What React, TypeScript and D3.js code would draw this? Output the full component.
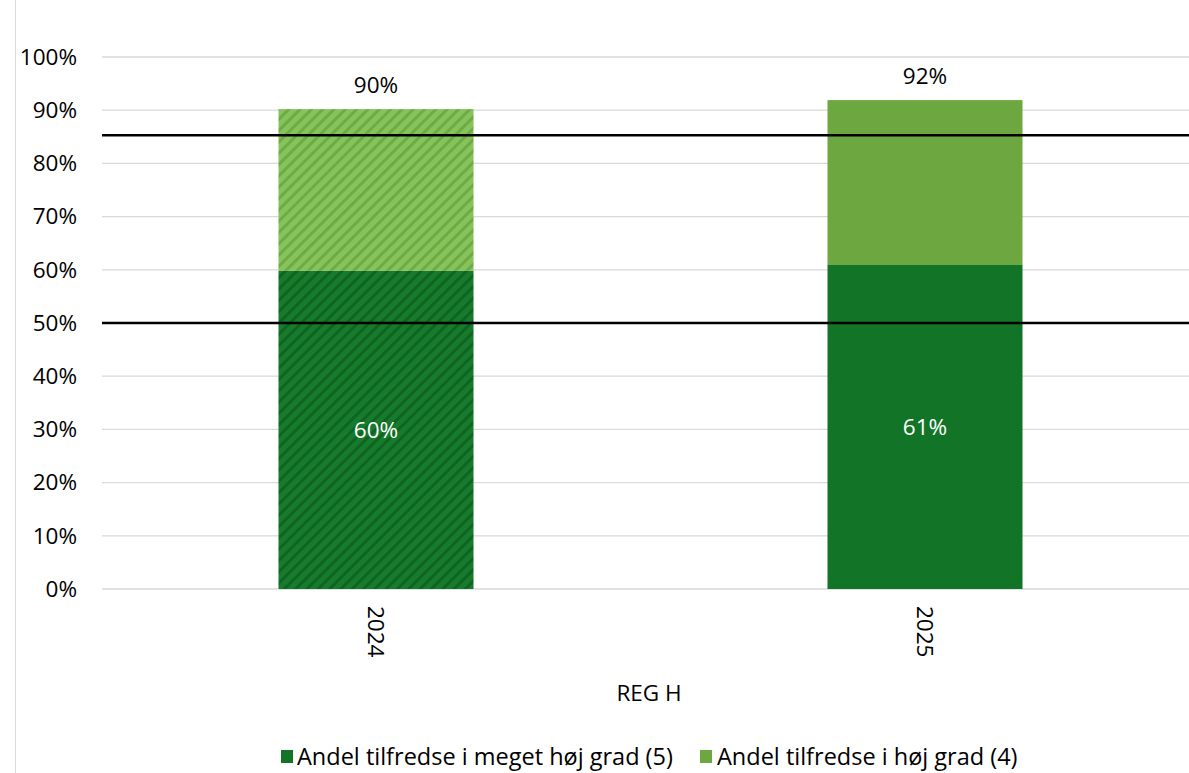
import React from "react";
import * as d3 from "d3";

const categories = ["2024", "2025"];
const veryHigh = [59.8, 60.9];
const high = [30.4, 31.0];
const totals = [90, 92];
const innerLabels = [60, 61];
const hatched = [true, false];
const refLines = [50, 85.3];
const yTicks = [0, 10, 20, 30, 40, 50, 60, 70, 80, 90, 100];
const seriesNames = ["Andel tilfredse i meget høj grad (5)", "Andel tilfredse i høj grad (4)"];
const axisTitle = "REG H";

const W = 1189;
const H = 773;
const FONT = "Open Sans, sans-serif";
const FS = 22.5;

export default function App() {
  const x = d3.scaleBand<string>().domain(categories).range([101.5, 1199.5]).paddingInner(0.645).paddingOuter(0.3225);
  const y = d3.scaleLinear().domain([0, 100]).range([589, 57]);
  const bw = 195;

  return (
    <svg width={W} height={H} style={{ position: "absolute", left: 0, top: 0, background: "#fff" }}>
      <defs>
        <pattern id="hatchDark" patternUnits="userSpaceOnUse" width="8" height="8" patternTransform="rotate(45)">
          <rect width="8" height="8" fill="#167C2C" />
          <rect width="3" height="8" fill="#0F6423" />
        </pattern>
        <pattern id="hatchLight" patternUnits="userSpaceOnUse" width="8" height="8" patternTransform="rotate(45)">
          <rect width="8" height="8" fill="#86C35B" />
          <rect width="3" height="8" fill="#6FAB45" />
        </pattern>
      </defs>
      <line x1={15.5} x2={15.5} y1={0} y2={H} stroke="#d9d9d9" strokeWidth={1} />
      {yTicks.map((t) => (
        <g key={t}>
          <line x1={102} x2={W} y1={y(t)} y2={y(t)} stroke="#d9d9d9" strokeWidth={1.3} />
          <text x={77} y={y(t)} dy="0.35em" textAnchor="end" fontFamily={FONT} fontSize={FS} fill="#000">
            {t}%
          </text>
        </g>
      ))}
      {categories.map((c, i) => {
        const cx = x(c)! + x.bandwidth() / 2;
        const x0 = cx - bw / 2;
        const yTop = y(veryHigh[i] + high[i]);
        return (
          <g key={c}>
            <rect x={x0} y={y(veryHigh[i])} width={bw} height={y(0) - y(veryHigh[i])} fill={hatched[i] ? "url(#hatchDark)" : "#127427"} />
            <rect x={x0} y={yTop} width={bw} height={y(veryHigh[i]) - yTop} fill={hatched[i] ? "url(#hatchLight)" : "#6DA740"} />
            <text x={cx} y={(y(0) + y(veryHigh[i])) / 2} dy="0.35em" textAnchor="middle" fontFamily={FONT} fontSize={FS} fill="#fff">
              {innerLabels[i]}%
            </text>
            <text x={cx} y={yTop - 24} dy="0.35em" textAnchor="middle" fontFamily={FONT} fontSize={FS} fill="#000">
              {totals[i]}%
            </text>
            <text transform={`translate(${cx},606) rotate(90)`} dy="0.35em" textAnchor="start" fontFamily={FONT} fontSize={FS} fill="#000">
              {c}
            </text>
          </g>
        );
      })}
      {refLines.map((r) => (
        <line key={r} x1={102} x2={W} y1={y(r)} y2={y(r)} stroke="#000" strokeWidth={2.5} />
      ))}
      <text x={649} y={693} dy="0.35em" textAnchor="middle" fontFamily={FONT} fontSize={FS} fill="#000">
        {axisTitle}
      </text>
      <g>
        <rect x={281} y={750} width={12} height={13} fill="#127427" />
        <text x={297} y={757} dy="0.35em" fontFamily={FONT} fontSize={23.5} fill="#000">{seriesNames[0]}</text>
        <rect x={700} y={750} width={12} height={13} fill="#6DA740" />
        <text x={717} y={757} dy="0.35em" fontFamily={FONT} fontSize={23.5} fill="#000">{seriesNames[1]}</text>
      </g>
    </svg>
  );
}
